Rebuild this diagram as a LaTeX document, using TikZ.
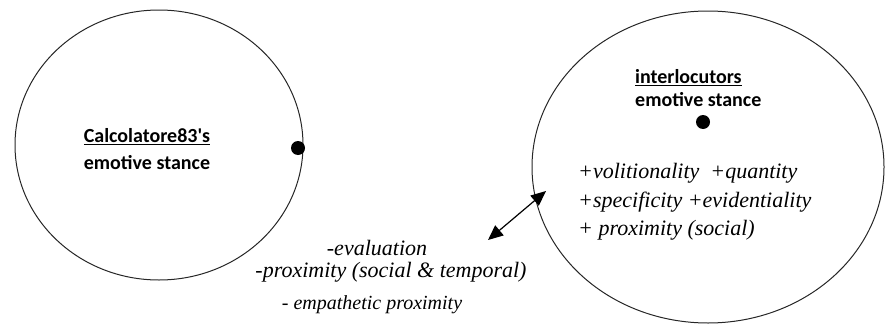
\documentclass[tikz,border=0pt]{standalone}
\usepackage{fontspec}
\setmainfont{Liberation Serif}
\newfontfamily\lbl{Carlito}
\usetikzlibrary{arrows.meta,shapes.geometric}
\begin{document}
\begin{tikzpicture}[x=1pt,y=-1pt,
  circ/.style={draw=black!85,line width=1pt,ellipse,inner sep=0pt},
  dotmark/.style={fill=black,circle,inner sep=0pt,minimum size=14pt},
  head/.style={font=\lbl\bfseries\fontsize{20}{24}\selectfont,inner sep=0pt},
  feat/.style={font=\itshape\fontsize{22}{26}\selectfont,inner sep=0pt},
  dbl/.style={line width=1.2pt,{Triangle[length=15pt,width=13pt]}-{Triangle[length=15pt,width=13pt]}}]
\useasboundingbox (0,0) rectangle (885,324);
\node[circ,minimum width=288pt,minimum height=270pt] (L) at (159,145) {};
\node[circ,minimum width=352pt,minimum height=312pt] (R) at (708,167) {};
\node[dotmark] (dl) at (298,148) {};
\node[dotmark] (dr) at (703,122) {};
\node[head] (lt1) at (147,137) {\underline{Calcolatore83's}};
\node[head] (lt2) at (147,163) {emotive stance};
\node[head,anchor=west] (rt1) at (635,78) {\underline{interlocutors}};
\node[head,anchor=west] (rt2) at (635,100) {emotive stance};
\node[feat,anchor=west] (f1) at (578,173) {+volitionality\enspace +quantity};
\node[feat,anchor=west] (f2) at (578,202) {+specificity +evidentiality};
\node[feat,anchor=west] (f3) at (578,230) {+ proximity (social)};
\node[feat] (b1) at (377,248) {-evaluation};
\node[feat] (b2) at (391,272) {-proximity (social \& temporal)};
\node[feat,font=\itshape\fontsize{20}{24}\selectfont] (b3) at (372,305) {- empathetic proximity};
\coordinate (a1) at (488,240);
\coordinate (a2) at (546,191);
\draw[dbl] (a1) -- (a2);
\end{tikzpicture}
\end{document}
